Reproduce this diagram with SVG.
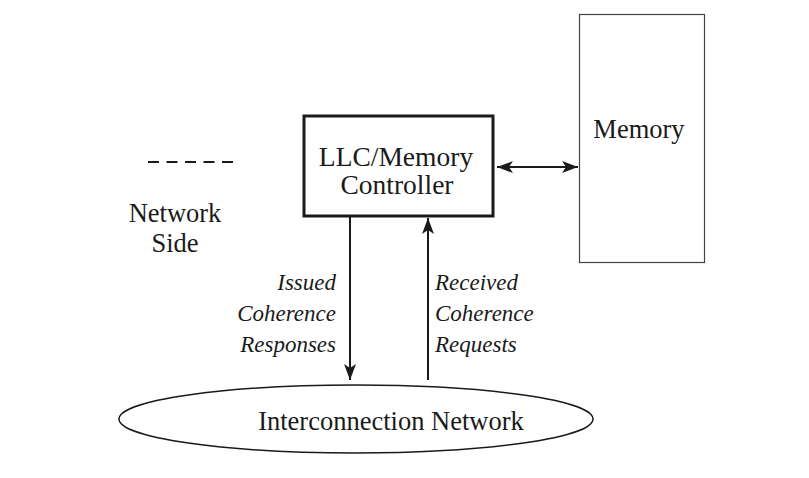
<svg xmlns="http://www.w3.org/2000/svg" width="809" height="478" viewBox="0 0 809 478">
<style>
text{font-family:"Liberation Serif","DejaVu Serif",serif;fill:#1a1a1a}
.n{font-size:26.5px}
.b{font-size:27.5px}
.i{font-size:23px;font-style:italic}
.ln{stroke:#1a1a1a;stroke-width:2;fill:none}
</style>
<defs>
<marker id="ah" viewBox="0 0 16 12" refX="16" refY="6" markerWidth="16" markerHeight="12" markerUnits="userSpaceOnUse" orient="auto-start-reverse">
<path d="M0,0 L16,6 L0,12 L4,6 Z" fill="#1a1a1a"/>
</marker>
</defs>
<rect width="809" height="478" fill="#fff"/>
<g id="legend">
<line x1="148" y1="162" x2="233" y2="162" stroke="#1a1a1a" stroke-width="2" stroke-dasharray="11,7.5"/>
<text class="n" x="175" y="222" text-anchor="middle">Network</text>
<text class="n" x="175" y="252" text-anchor="middle">Side</text>
</g>
<g id="llc">
<rect x="304" y="116" width="189" height="100" fill="#fff" stroke="#1a1a1a" stroke-width="3"/>
<text class="b" x="396" y="166" text-anchor="middle">LLC/Memory</text>
<text class="b" x="397" y="194" text-anchor="middle">Controller</text>
</g>
<g id="memory">
<rect x="579.5" y="14.5" width="125" height="248" fill="#fff" stroke="#444" stroke-width="1.2"/>
<text class="n" x="639" y="138" text-anchor="middle">Memory</text>
</g>
<g id="network">
<ellipse cx="356" cy="419" rx="237" ry="34" fill="#fff" stroke="#1a1a1a" stroke-width="1.5"/>
<text class="n" x="391" y="430" text-anchor="middle">Interconnection Network</text>
</g>
<g id="connectors">
<line class="ln" x1="497" y1="167" x2="578" y2="167" marker-start="url(#ah)" marker-end="url(#ah)"/>
<line class="ln" x1="350" y1="217" x2="350" y2="380" marker-end="url(#ah)"/>
<line class="ln" x1="428" y1="380" x2="428" y2="218" marker-end="url(#ah)"/>
</g>
<g id="labels">
<text class="i" x="336" y="290" text-anchor="end">Issued</text>
<text class="i" x="336" y="321" text-anchor="end">Coherence</text>
<text class="i" x="336" y="352" text-anchor="end">Responses</text>
<text class="i" x="435" y="290">Received</text>
<text class="i" x="435" y="321">Coherence</text>
<text class="i" x="435" y="352">Requests</text>
</g>
</svg>
